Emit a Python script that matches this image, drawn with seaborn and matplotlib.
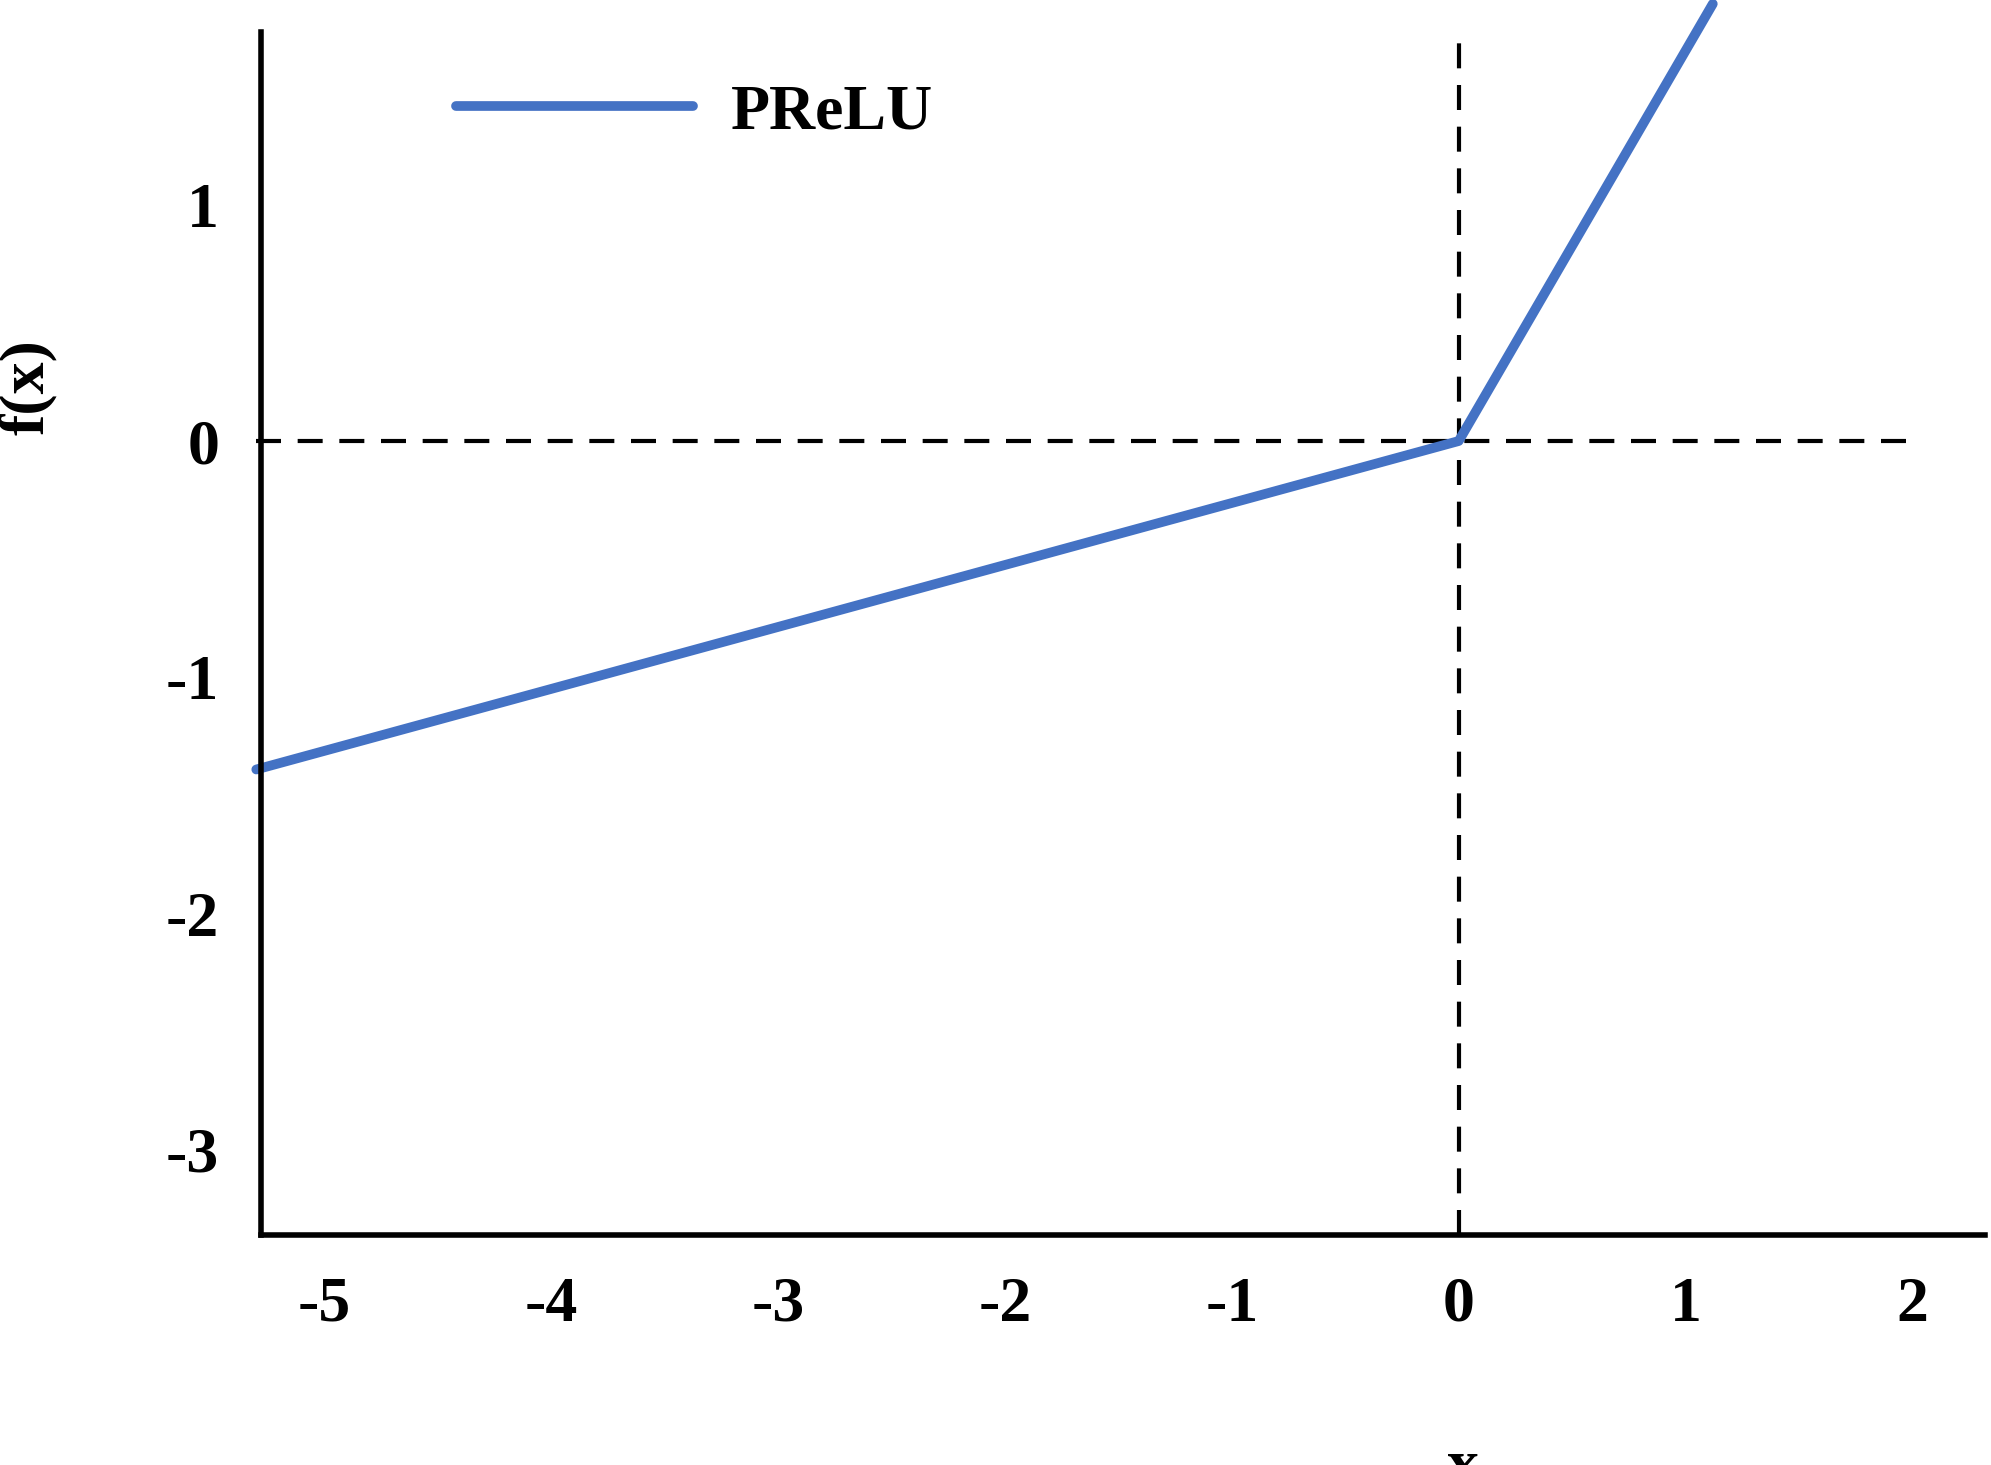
import matplotlib
matplotlib.use("Agg")
import matplotlib.pyplot as plt
import seaborn as sns
import pandas as pd

# PReLU curve
x_vals = [-5.3, 0.0, 1.12]
y_vals = [-1.39, 0.0, 1.85]
x_ticks = [-5, -4, -3, -2, -1, 0, 1, 2]
y_ticks = [-3, -2, -1, 0, 1]

sns.set_theme(style="white")
plt.rcParams["font.family"] = ["Liberation Serif", "DejaVu Serif"]
plt.rcParams["font.weight"] = "bold"
plt.rcParams["axes.unicode_minus"] = False
plt.rcParams["text.color"] = "black"
plt.rcParams["xtick.color"] = "black"
plt.rcParams["ytick.color"] = "black"
plt.rcParams["axes.labelcolor"] = "black"

df = pd.DataFrame({"x": x_vals, "f": y_vals})

fig = plt.figure(figsize=(19.91, 14.65), dpi=100)
ax = fig.add_axes([0.131, 0.157, 0.866, 0.821])

ax.axvline(0, color="black", lw=3, ls=(0, (6, 4)), zorder=1)
ax.plot([-5.3, 2.0], [0, 0], color="black", lw=3, ls=(0, (6, 4)), zorder=1)
sns.lineplot(data=df, x="x", y="f", ax=ax, color="#4472C4", lw=7,
             label="PReLU", zorder=2)
for ln in ax.get_lines():
    ln.set_clip_on(False)

ax.set_xlim(-5.28, 2.32)
ax.set_ylim(-3.36, 1.73)
ax.set_xticks(x_ticks)
ax.set_yticks(y_ticks)
ax.tick_params(axis="both", length=0, labelsize=46, pad=30)
for lab in ax.get_xticklabels() + ax.get_yticklabels():
    lab.set_fontweight("bold")
ax.set_xlabel("x", fontsize=46, fontweight="bold")
ax.set_ylabel("f(x)", fontsize=46, fontweight="bold")
ax.xaxis.set_label_coords(0.697, -0.17)
ax.yaxis.set_label_coords(-0.118, 0.705)

for s in ["top", "right"]:
    ax.spines[s].set_visible(False)
for s in ["left", "bottom"]:
    ax.spines[s].set_linewidth(4)
    ax.spines[s].set_color("black")

leg = ax.legend(loc="upper left", bbox_to_anchor=(0.08, 1.005), frameon=False,
                fontsize=46, handlelength=3.7, handletextpad=0.6)
for t in leg.get_texts():
    t.set_fontweight("bold")

fig.savefig("out.png", dpi=100)
